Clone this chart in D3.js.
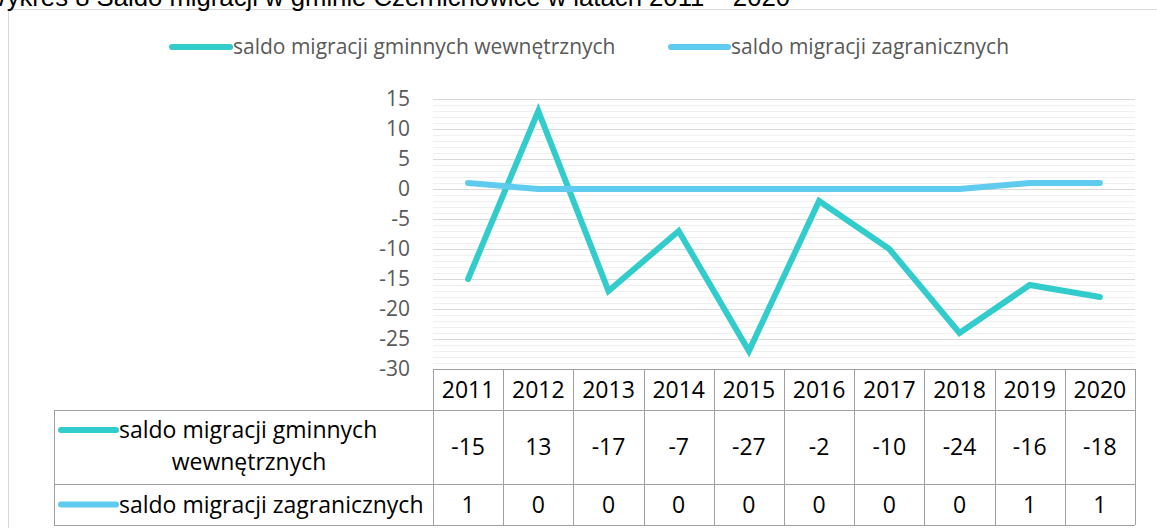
<!DOCTYPE html>
<html>
<head>
<meta charset="utf-8">
<script src="https://cdn.jsdelivr.net/npm/d3@7"></script>
<style>
  body { margin: 0; background: #fff; }
  svg { display: block; }
</style>
</head>
<body>
<svg id="chart" width="1157" height="528"></svg>
<script>
const years = ["2011", "2012", "2013", "2014", "2015", "2016", "2017", "2018", "2019", "2020"];
const gminne = [-15, 13, -17, -7, -27, -2, -10, -24, -16, -18];
const zagraniczne = [1, 0, 0, 0, 0, 0, 0, 0, 1, 1];
const seriesNames = ["saldo migracji gminnych wewnętrznych", "saldo migracji zagranicznych"];
const seriesColors = ["#33CCCC", "#5FCBEF"];
const yTicks = [15, 10, 5, 0, -5, -10, -15, -20, -25, -30];
const titleText = "Wykres 8 Saldo migracji w gminie Czernichowice w latach 2011 – 2020";

function drawChart() {
  const svg = d3.select("#chart");
  svg.selectAll("*").remove();

  const font = "'Open Sans', sans-serif";
  const plot = { left: 433, right: 1135, top: 99, bottom: 369 };

  // chart frame + cut off caption
  svg.append("rect")
    .attr("x", 8.5).attr("y", 9.5)
    .attr("width", 1300).attr("height", 700)
    .attr("fill", "none").attr("stroke", "#d9d9d9");

  svg.append("text")
    .attr("x", 790).attr("y", 6)
    .attr("text-anchor", "end")
    .style("font-family", "'Liberation Sans', Arial, sans-serif")
    .style("font-size", "25.7px")
    .attr("fill", "#000")
    .text(titleText);

  const x = d3.scaleBand().domain(years).range([plot.left, plot.right]);
  const y = d3.scaleLinear().domain([-30, 15]).range([plot.bottom, plot.top]);

  // gridlines: minor every 1, major every 5
  const grid = svg.append("g");
  grid.selectAll("line.minor")
    .data(d3.range(-30, 16, 1).filter(v => v % 5 !== 0))
    .enter().append("line")
    .attr("class", "minor")
    .attr("x1", plot.left).attr("x2", plot.right)
    .attr("y1", d => Math.round(y(d)) + 0.5).attr("y2", d => Math.round(y(d)) + 0.5)
    .attr("stroke", "#f0f0f0");
  grid.selectAll("line.major")
    .data(yTicks.filter(v => v !== -30))
    .enter().append("line")
    .attr("class", "major")
    .attr("x1", plot.left).attr("x2", plot.right)
    .attr("y1", d => Math.round(y(d)) + 0.5).attr("y2", d => Math.round(y(d)) + 0.5)
    .attr("stroke", "#d9d9d9");

  // y axis labels (plain hyphen like the original)
  const yAxis = svg.append("g")
    .attr("transform", `translate(${plot.left},0)`)
    .call(d3.axisLeft(y).tickValues(yTicks).tickFormat(d => String(d)).tickSize(0).tickPadding(23));
  yAxis.select(".domain").remove();
  yAxis.selectAll("text")
    .style("font-family", font)
    .style("font-size", "21px")
    .attr("fill", "#595959");

  // lines
  const allSeries = [gminne, zagraniczne];
  const line = d3.line()
    .x((d, i) => x(years[i]) + x.bandwidth() / 2)
    .y(d => y(d));

  allSeries.forEach((vals, s) => {
    svg.append("path")
      .datum(vals)
      .attr("d", line)
      .attr("fill", "none")
      .attr("stroke", seriesColors[s])
      .attr("stroke-width", 6)
      .attr("stroke-linecap", "round");
  });

  // legend at top
  const legendPos = [{ x1: 172, x2: 230 }, { x1: 671, x2: 728 }];
  seriesNames.forEach((name, s) => {
    const g = svg.append("g");
    g.append("line")
      .attr("x1", legendPos[s].x1).attr("x2", legendPos[s].x2)
      .attr("y1", 47).attr("y2", 47)
      .attr("stroke", seriesColors[s])
      .attr("stroke-width", 6)
      .attr("stroke-linecap", "round");
    g.append("text")
      .attr("x", legendPos[s].x2 + 3).attr("y", 47)
      .attr("dy", "0.35em")
      .style("font-family", font)
      .style("font-size", "21px")
      .attr("fill", "#595959")
      .text(name);
  });

  // data table
  const rows = { headTop: 369, headBottom: 410, r1Bottom: 484, r2Bottom: 525 };
  const tableLeft = 54;
  const border = "#a0a0a0";
  const table = svg.append("g");

  table.append("line")
    .attr("x1", plot.left).attr("x2", plot.right)
    .attr("y1", rows.headTop + 0.5).attr("y2", rows.headTop + 0.5)
    .attr("stroke", border);
  [rows.headBottom, rows.r1Bottom, rows.r2Bottom].forEach(yy => {
    table.append("line")
      .attr("x1", tableLeft).attr("x2", plot.right)
      .attr("y1", yy + 0.5).attr("y2", yy + 0.5)
      .attr("stroke", border);
  });

  table.append("line")
    .attr("x1", tableLeft + 0.5).attr("x2", tableLeft + 0.5)
    .attr("y1", rows.headBottom).attr("y2", rows.r2Bottom)
    .attr("stroke", border);
  const edges = years.map(d => x(d)).concat([plot.right]);
  table.selectAll("line.col")
    .data(edges)
    .enter().append("line")
    .attr("class", "col")
    .attr("x1", d => Math.round(d) + 0.5).attr("x2", d => Math.round(d) + 0.5)
    .attr("y1", rows.headTop).attr("y2", rows.r2Bottom)
    .attr("stroke", border);

  const cellText = sel => sel
    .attr("text-anchor", "middle")
    .attr("dy", "0.35em")
    .style("font-family", font)
    .style("font-size", "23px")
    .attr("fill", "#000");

  table.selectAll("text.year")
    .data(years)
    .enter().append("text")
    .attr("class", "year")
    .attr("x", d => x(d) + x.bandwidth() / 2)
    .attr("y", (rows.headTop + rows.headBottom) / 2)
    .call(cellText)
    .text(d => d);

  const rowMid = [(rows.headBottom + rows.r1Bottom) / 2, (rows.r1Bottom + rows.r2Bottom) / 2];
  allSeries.forEach((vals, s) => {
    table.selectAll("text.v" + s)
      .data(vals)
      .enter().append("text")
      .attr("class", "v" + s)
      .attr("x", (d, i) => x(years[i]) + x.bandwidth() / 2)
      .attr("y", rowMid[s])
      .call(cellText)
      .text(d => d);
  });

  // row headers with legend keys
  const keyY = [430, rowMid[1]];
  seriesNames.forEach((name, s) => {
    table.append("line")
      .attr("x1", 61).attr("x2", 116)
      .attr("y1", keyY[s]).attr("y2", keyY[s])
      .attr("stroke", seriesColors[s])
      .attr("stroke-width", 6)
      .attr("stroke-linecap", "round");
  });
  table.append("text")
    .attr("x", 119).attr("y", 430)
    .attr("dy", "0.35em")
    .style("font-family", font).style("font-size", "23px")
    .attr("fill", "#000")
    .text("saldo migracji gminnych");
  table.append("text")
    .attr("x", 249).attr("y", 462)
    .call(cellText)
    .text("wewnętrznych");
  table.append("text")
    .attr("x", 119).attr("y", rowMid[1])
    .attr("dy", "0.35em")
    .style("font-family", font).style("font-size", "23px")
    .attr("fill", "#000")
    .text(seriesNames[1]);
}

drawChart();
</script>
</body>
</html>
